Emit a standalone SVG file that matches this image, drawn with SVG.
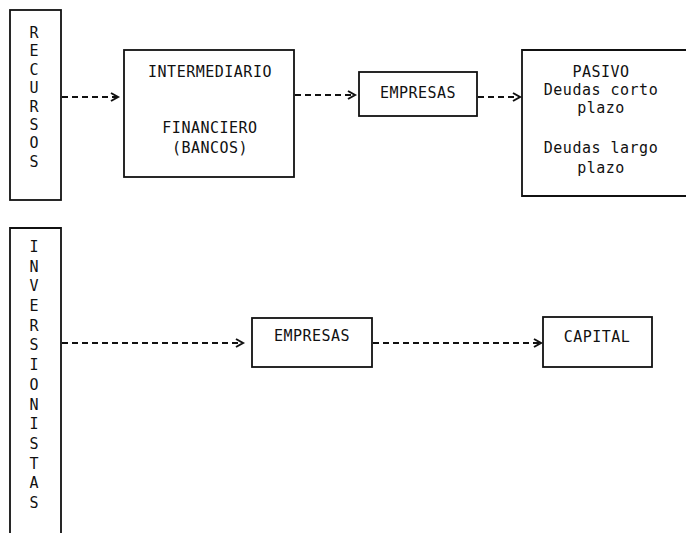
<svg xmlns="http://www.w3.org/2000/svg" width="686" height="533" viewBox="0 0 686 533">
<style>
.box{fill:none;stroke:#111;stroke-width:1.8}
.t{font-family:"DejaVu Sans Mono","Liberation Mono",monospace;font-size:15px;fill:#111;text-anchor:middle;letter-spacing:0.5px}
.v{font-family:"DejaVu Sans Mono","Liberation Mono",monospace;font-size:15px;fill:#111;text-anchor:middle}
.dash{fill:none;stroke:#111;stroke-width:1.8;stroke-dasharray:6 4}
.head{fill:none;stroke:#111;stroke-width:2}
</style>
<rect width="686" height="533" fill="#fff"/>
<g id="recursos">
<rect class="box" x="10" y="10" width="51" height="190"/>
<text class="v"><tspan x="34" y="38">R</tspan><tspan x="34" y="56">E</tspan><tspan x="34" y="75">C</tspan><tspan x="34" y="93">U</tspan><tspan x="34" y="112">R</tspan><tspan x="34" y="130">S</tspan><tspan x="34" y="148">O</tspan><tspan x="34" y="167">S</tspan></text>
</g>
<g id="intermediario">
<rect class="box" x="124" y="50" width="170" height="127"/>
<text class="t" x="210" y="77">INTERMEDIARIO</text>
<text class="t" x="210" y="133">FINANCIERO</text>
<text class="t" x="210" y="153">(BANCOS)</text>
</g>
<g id="empresas1">
<rect class="box" x="359" y="72" width="118" height="44"/>
<text class="t" x="418" y="98">EMPRESAS</text>
</g>
<g id="pasivo">
<path class="box" d="M690 50 H522 V196 H690"/>
<text class="t" x="601" y="77">PASIVO</text>
<text class="t" x="601" y="95">Deudas corto</text>
<text class="t" x="601" y="113">plazo</text>
<text class="t" x="601" y="153">Deudas largo</text>
<text class="t" x="601" y="173">plazo</text>
</g>
<g id="inversionistas">
<path class="box" d="M10 540 V228 H61 V540"/>
<text class="v"><tspan x="34" y="252">I</tspan><tspan x="34" y="272">N</tspan><tspan x="34" y="291">V</tspan><tspan x="34" y="311">E</tspan><tspan x="34" y="331">R</tspan><tspan x="34" y="350">S</tspan><tspan x="34" y="370">I</tspan><tspan x="34" y="390">O</tspan><tspan x="34" y="410">N</tspan><tspan x="34" y="429">I</tspan><tspan x="34" y="449">S</tspan><tspan x="34" y="469">T</tspan><tspan x="34" y="488">A</tspan><tspan x="34" y="508">S</tspan></text>
</g>
<g id="empresas2">
<rect class="box" x="252" y="318" width="120" height="49"/>
<text class="t" x="312" y="341">EMPRESAS</text>
</g>
<g id="capital">
<rect class="box" x="543" y="317" width="109" height="50"/>
<text class="t" x="597" y="342">CAPITAL</text>
</g>
<g id="connectors">
<path class="dash" d="M62 97 H117"/><path class="head" d="M111 93 L118 97 L111 101"/>
<path class="dash" d="M295 95 H354"/><path class="head" d="M348 91 L355 95 L348 99"/>
<path class="dash" d="M478 97 H519"/><path class="head" d="M513 93 L520 97 L513 101"/>
<path class="dash" d="M62 343 H242"/><path class="head" d="M236 339 L243 343 L236 347"/>
<path class="dash" d="M373 343 H540"/><path class="head" d="M534 339 L541 343 L534 347"/>
</g>
</svg>
